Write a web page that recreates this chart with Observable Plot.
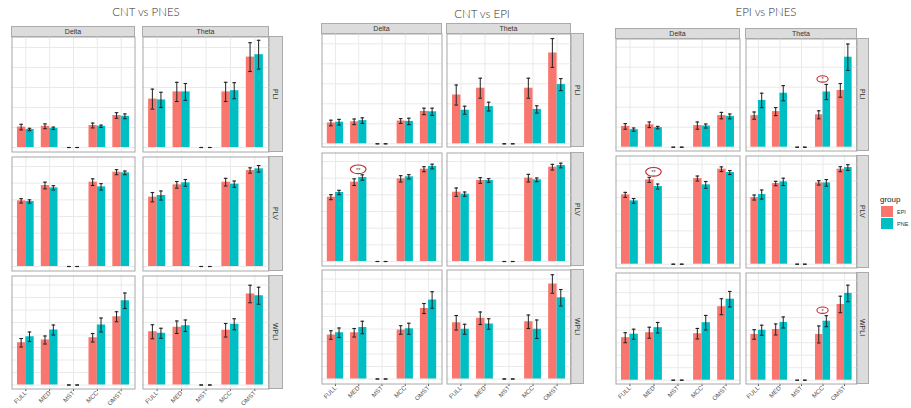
<!DOCTYPE html>
<html>
<head>
<meta charset="utf-8">
<script src="https://cdn.jsdelivr.net/npm/d3@7"></script>
<script src="https://cdn.jsdelivr.net/npm/@observablehq/plot@0.6"></script>
<style>
  html, body { margin: 0; padding: 0; background: #fff; overflow: hidden; }
  #chart { position: relative; width: 911px; height: 408px; overflow: hidden; background: #fff;
           font-family: "Liberation Sans", Arial, sans-serif; }
  .title { position: absolute; transform: translate(-50%, -50%); white-space: nowrap;
           font-family: Lato, "Open Sans", sans-serif; font-weight: 300; font-size: 11.5px; color: #2e2e2e; }
  .strip { position: absolute; box-sizing: border-box; background: #dcdcdc; border: 1px solid #ababab;
           color: #333; font-size: 7px; display: flex; align-items: center; justify-content: center; }
  .strip.right span { writing-mode: vertical-rl; }
  .cell { position: absolute; }
  .cell svg { display: block; overflow: visible; }
  .legend { position: absolute; font-size: 8px; color: #222; }
  .legend .key { position: absolute; width: 12px; height: 11px; }
  .legend .lab { position: absolute; font-size: 5.5px; color: #333; white-space: nowrap; }
</style>
</head>
<body>
<div id="chart"></div>
<script>
// Connectivity metrics on the x axis, frequency bands as columns, measures as rows
const metrics = ["FULL", "MED", "MST", "MCC", "OMST"];
const bands = ["Delta", "Theta"];
const measures = ["PLI", "PLV", "WPLI"];
const groupColors = ["#F8766D", "#00BFC4"];

// ---- CNT vs PNES ----
const cntPnesGroups = ["CNT", "PNES"];
// measure, band, group, FULL, MED, MST, MCC, OMST
const cntPnesMeans = [
  ["PLI", "Delta", "CNT",  0.051, 0.053, 0, 0.055, 0.080],
  ["PLI", "Delta", "PNES", 0.045, 0.048, 0, 0.053, 0.078],
  ["PLI", "Theta", "CNT",  0.121, 0.139, 0, 0.139, 0.226],
  ["PLI", "Theta", "PNES", 0.119, 0.139, 0, 0.142, 0.232],
  ["PLV", "Delta", "CNT",  0.394, 0.486, 0, 0.506, 0.566],
  ["PLV", "Delta", "PNES", 0.390, 0.472, 0, 0.478, 0.562],
  ["PLV", "Theta", "CNT",  0.416, 0.490, 0, 0.506, 0.576],
  ["PLV", "Theta", "PNES", 0.426, 0.502, 0, 0.494, 0.586],
  ["WPLI", "Delta", "CNT",  0.169, 0.180, 0, 0.189, 0.273],
  ["WPLI", "Delta", "PNES", 0.193, 0.220, 0, 0.240, 0.337],
  ["WPLI", "Theta", "CNT",  0.213, 0.231, 0, 0.219, 0.364],
  ["WPLI", "Theta", "PNES", 0.207, 0.237, 0, 0.243, 0.357]
];
const cntPnesErrors = [
  ["PLI", "Delta", "CNT",  0.007, 0.006, 0, 0.006, 0.007],
  ["PLI", "Delta", "PNES", 0.003, 0.003, 0, 0.003, 0.006],
  ["PLI", "Theta", "CNT",  0.025, 0.024, 0, 0.024, 0.036],
  ["PLI", "Theta", "PNES", 0.019, 0.021, 0, 0.020, 0.036],
  ["PLV", "Delta", "CNT",  0.013, 0.020, 0, 0.020, 0.015],
  ["PLV", "Delta", "PNES", 0.010, 0.013, 0, 0.019, 0.011],
  ["PLV", "Theta", "CNT",  0.028, 0.020, 0, 0.023, 0.016],
  ["PLV", "Theta", "PNES", 0.027, 0.020, 0, 0.019, 0.020],
  ["WPLI", "Delta", "CNT",  0.017, 0.016, 0, 0.017, 0.020],
  ["WPLI", "Delta", "PNES", 0.019, 0.020, 0, 0.028, 0.031],
  ["WPLI", "Theta", "CNT",  0.028, 0.025, 0, 0.027, 0.035],
  ["WPLI", "Theta", "PNES", 0.020, 0.023, 0, 0.022, 0.034]
];

// ---- CNT vs EPI ----
const cntEpiGroups = ["CNT", "EPI"];
const cntEpiMeans = [
  ["PLI", "Delta", "CNT", 0.052, 0.055, 0, 0.057, 0.081],
  ["PLI", "Delta", "EPI", 0.054, 0.058, 0, 0.056, 0.080],
  ["PLI", "Theta", "CNT", 0.122, 0.139, 0, 0.139, 0.227],
  ["PLI", "Theta", "EPI", 0.084, 0.093, 0, 0.086, 0.148],
  ["PLV", "Delta", "CNT", 0.386, 0.476, 0, 0.496, 0.554],
  ["PLV", "Delta", "EPI", 0.414, 0.504, 0, 0.508, 0.570],
  ["PLV", "Theta", "CNT", 0.416, 0.486, 0, 0.500, 0.566],
  ["PLV", "Theta", "EPI", 0.404, 0.486, 0, 0.490, 0.576],
  ["WPLI", "Delta", "CNT", 0.176, 0.185, 0, 0.196, 0.282],
  ["WPLI", "Delta", "EPI", 0.185, 0.206, 0, 0.201, 0.316],
  ["WPLI", "Theta", "CNT", 0.225, 0.243, 0, 0.229, 0.380],
  ["WPLI", "Theta", "EPI", 0.199, 0.220, 0, 0.199, 0.325]
];
const cntEpiErrors = [
  ["PLI", "Delta", "CNT", 0.007, 0.007, 0, 0.006, 0.008],
  ["PLI", "Delta", "EPI", 0.007, 0.007, 0, 0.008, 0.009],
  ["PLI", "Theta", "CNT", 0.025, 0.025, 0, 0.025, 0.036],
  ["PLI", "Theta", "EPI", 0.010, 0.011, 0, 0.009, 0.015],
  ["PLV", "Delta", "CNT", 0.015, 0.020, 0, 0.019, 0.015],
  ["PLV", "Delta", "EPI", 0.013, 0.016, 0, 0.013, 0.014],
  ["PLV", "Theta", "CNT", 0.025, 0.017, 0, 0.023, 0.017],
  ["PLV", "Theta", "EPI", 0.013, 0.011, 0, 0.011, 0.014],
  ["WPLI", "Delta", "CNT", 0.017, 0.017, 0, 0.017, 0.020],
  ["WPLI", "Delta", "EPI", 0.019, 0.025, 0, 0.022, 0.033],
  ["WPLI", "Theta", "CNT", 0.029, 0.025, 0, 0.027, 0.037],
  ["WPLI", "Theta", "EPI", 0.020, 0.021, 0, 0.037, 0.033]
];

// ---- EPI vs PNES ----
const epiPnesGroups = ["EPI", "PNE"];
const epiPnesMeans = [
  ["PLI", "Delta", "EPI", 0.052, 0.056, 0, 0.054, 0.079],
  ["PLI", "Delta", "PNE", 0.044, 0.049, 0, 0.053, 0.077],
  ["PLI", "Theta", "EPI", 0.079, 0.089, 0, 0.081, 0.142],
  ["PLI", "Theta", "PNE", 0.117, 0.135, 0, 0.138, 0.225],
  ["PLV", "Delta", "EPI", 0.416, 0.506, 0, 0.514, 0.570],
  ["PLV", "Delta", "PNE", 0.380, 0.466, 0, 0.476, 0.550],
  ["PLV", "Theta", "EPI", 0.400, 0.484, 0, 0.488, 0.570],
  ["PLV", "Theta", "PNE", 0.418, 0.494, 0, 0.488, 0.580],
  ["WPLI", "Delta", "EPI", 0.170, 0.190, 0, 0.186, 0.294],
  ["WPLI", "Delta", "PNE", 0.184, 0.210, 0, 0.230, 0.324],
  ["WPLI", "Theta", "EPI", 0.183, 0.203, 0, 0.183, 0.303],
  ["WPLI", "Theta", "PNE", 0.200, 0.231, 0, 0.236, 0.347]
];
const epiPnesErrors = [
  ["PLI", "Delta", "EPI", 0.007, 0.007, 0, 0.009, 0.008],
  ["PLI", "Delta", "PNE", 0.004, 0.003, 0, 0.005, 0.006],
  ["PLI", "Theta", "EPI", 0.009, 0.010, 0, 0.010, 0.017],
  ["PLI", "Theta", "PNE", 0.018, 0.019, 0, 0.019, 0.033],
  ["PLV", "Delta", "EPI", 0.015, 0.015, 0, 0.015, 0.014],
  ["PLV", "Delta", "PNE", 0.014, 0.015, 0, 0.020, 0.012],
  ["PLV", "Theta", "EPI", 0.015, 0.013, 0, 0.013, 0.015],
  ["PLV", "Theta", "PNE", 0.027, 0.022, 0, 0.020, 0.017],
  ["WPLI", "Delta", "EPI", 0.020, 0.022, 0, 0.021, 0.032],
  ["WPLI", "Delta", "PNE", 0.020, 0.021, 0, 0.029, 0.031],
  ["WPLI", "Theta", "EPI", 0.019, 0.022, 0, 0.034, 0.033],
  ["WPLI", "Theta", "PNE", 0.020, 0.022, 0, 0.022, 0.033]
];

// Significant group differences: comparison, measure, band, metric, label
const significance = [
  ["CNT vs EPI",  "PLV",  "Delta", "MED", "**"],
  ["EPI vs PNES", "PLV",  "Delta", "MED", "**"],
  ["EPI vs PNES", "PLI",  "Theta", "MCC", "*"],
  ["EPI vs PNES", "WPLI", "Theta", "MCC", "*"]
];

// Value per pixel of each measure's row and its grid spacing
const valuePerPx = {PLI: 0.0025, PLV: 0.006, WPLI: 0.004};
const gridStep = {PLI: 0.05, PLV: 0.1, WPLI: 0.05};

// Page layout of the three facet grids
const frames = [
  {titleX: 146, titleY: 11, cols: [[11, 135], [142, 269]], right: [269, 283], strip: [26, 37],
   rows: [[36, 152, 147], [156, 271, 266], [275, 389, 384.5]]},
  {titleX: 482, titleY: 13, cols: [[321, 442], [446, 571]], right: [571, 584], strip: [23, 34],
   rows: [[33, 147, 143.3], [152, 266, 261], [269, 384, 378.5]]},
  {titleX: 766, titleY: 11, cols: [[615, 740], [745, 857]], right: [857, 869], strip: [28, 39],
   rows: [[38, 151, 146.7], [155, 268, 263.7], [272, 384, 379.7]]}
];

function toRecords(means, errors) {
  return means.flatMap((row, i) => {
    const [measure, band, group, ...vals] = row;
    const errs = errors[i].slice(3);
    return metrics.map((metric, k) => ({measure, band, group, metric, mean: vals[k], err: errs[k]}));
  });
}

const panels = [
  {title: "CNT vs PNES", groups: cntPnesGroups, records: toRecords(cntPnesMeans, cntPnesErrors)},
  {title: "CNT vs EPI",  groups: cntEpiGroups,  records: toRecords(cntEpiMeans, cntEpiErrors)},
  {title: "EPI vs PNES", groups: epiPnesGroups, records: toRecords(epiPnesMeans, epiPnesErrors), legend: true}
];

const chart = document.getElementById("chart");

function addDiv(cls, css, html) {
  const el = document.createElement("div");
  el.className = cls;
  Object.assign(el.style, css);
  if (html != null) el.innerHTML = html;
  chart.appendChild(el);
  return el;
}

function cellPlot(panel, frame, mi, bi) {
  const measure = measures[mi], band = bands[bi];
  const [x0, x1] = frame.cols[bi];
  const [top, bottom, base] = frame.rows[mi];
  const w = x1 - x0, h = bottom - top;
  const u = valuePerPx[measure];
  const isLast = mi === measures.length - 1;
  const mb = isLast ? 30 : 0;
  const step = w / (metrics.length + 0.2);
  const barW = 0.35 * step;
  const lefts = [0.15 * step, 0.5 * step];
  const data = panel.records.filter(d => d.measure === measure && d.band === band);
  const hi = (base - top) * u, lo = -(bottom - base) * u;

  const marks = [
    Plot.gridX({stroke: "#e8e8e8", strokeOpacity: 1, strokeWidth: 0.9}),
    Plot.gridY(d3.range(0, hi, gridStep[measure]), {stroke: "#e8e8e8", strokeOpacity: 1, strokeWidth: 0.9})
  ];

  panel.groups.forEach((g, gi) => {
    const sub = data.filter(d => d.group === g);
    const left = lefts[gi], right = step - left - barW;
    const c = left + barW / 2;
    marks.push(Plot.barY(sub, {x: "metric", y: "mean", fill: groupColors[gi], insetLeft: left, insetRight: right}));
    marks.push(Plot.barY(sub, {x: "metric", y1: d => d.mean - d.err, y2: d => d.mean + d.err,
      fill: "#222", insetLeft: c - 0.5, insetRight: step - c - 0.5}));
    for (const end of [d => d.mean + d.err, d => d.mean - d.err]) {
      marks.push(Plot.tickY(sub, {x: "metric", y: end, stroke: "#222", strokeWidth: 1.1,
        insetLeft: c - 1.8, insetRight: step - c - 1.8}));
    }
  });

  const sig = significance.filter(s => s[0] === panel.title && s[1] === measure && s[2] === band);
  if (sig.length) {
    marks.push((index, scales) => {
      const g = d3.create("svg:g");
      const bw = scales.x.bandwidth ? scales.x.bandwidth() : step;
      for (const [, , , metric, label] of sig) {
        const tops = data.filter(d => d.metric === metric).map(d => d.mean + d.err);
        const cx = scales.x(metric) + bw / 2;
        const cy = scales.y(d3.max(tops)) - 5;
        const big = label.length > 1;
        g.append("ellipse").attr("cx", cx).attr("cy", cy)
          .attr("rx", big ? 7.8 : 5.6).attr("ry", big ? 4.3 : 3.2)
          .attr("fill", "none").attr("stroke", "#c4272e").attr("stroke-width", 1.1);
        g.append("text").attr("x", cx).attr("y", cy + 2.4).attr("text-anchor", "middle")
          .attr("font-size", 5.5).attr("fill", "#444").text(label);
      }
      return g.node();
    });
  }

  marks.push(Plot.frame({stroke: "#a8a8a8", inset: 0.5}));

  const svg = Plot.plot({
    width: w,
    height: h + mb,
    marginTop: 0, marginRight: 0, marginLeft: 0, marginBottom: mb,
    style: {fontSize: "6.2px", color: "#555", background: "transparent", fontFamily: "'Liberation Sans', Arial, sans-serif"},
    x: {type: "band", domain: metrics, paddingInner: 0, paddingOuter: 0.1, round: false,
        axis: isLast ? "bottom" : null, tickRotate: -45, tickSize: 2, tickPadding: 0.5, label: null},
    y: {domain: [lo, hi], axis: null},
    marks
  });

  const holder = addDiv("cell", {left: x0 + "px", top: top + "px", width: w + "px", height: (h + mb) + "px"});
  holder.appendChild(svg);
}

panels.forEach((panel, pi) => {
  const frame = frames[pi];
  addDiv("title", {left: frame.titleX + "px", top: frame.titleY + "px"}, panel.title);

  bands.forEach((band, bi) => {
    const [x0, x1] = frame.cols[bi];
    addDiv("strip", {left: x0 + "px", top: frame.strip[0] + "px",
      width: (x1 - x0) + "px", height: (frame.strip[1] - frame.strip[0]) + "px"}, band);
  });

  measures.forEach((measure, mi) => {
    const [top, bottom] = frame.rows[mi];
    addDiv("strip right", {left: (frame.right[0] - 1) + "px", top: top + "px",
      width: (frame.right[1] - frame.right[0] + 1) + "px", height: (bottom - top) + "px"},
      "<span>" + measure + "</span>");
    bands.forEach((band, bi) => cellPlot(panel, frame, mi, bi));
  });

  if (panel.legend) {
    const lg = addDiv("legend", {left: "880px", top: "195px", width: "40px", height: "40px"});
    lg.innerHTML = "<div style='position:absolute;left:0;top:0'>group</div>";
    panel.groups.forEach((g, gi) => {
      const key = document.createElement("div");
      key.className = "key";
      Object.assign(key.style, {left: "1px", top: (11 + gi * 12) + "px", background: groupColors[gi]});
      lg.appendChild(key);
      const lab = document.createElement("div");
      lab.className = "lab";
      Object.assign(lab.style, {left: "17px", top: (13.5 + gi * 12) + "px"});
      lab.textContent = g;
      lg.appendChild(lab);
    });
  }
});
</script>
</body>
</html>
